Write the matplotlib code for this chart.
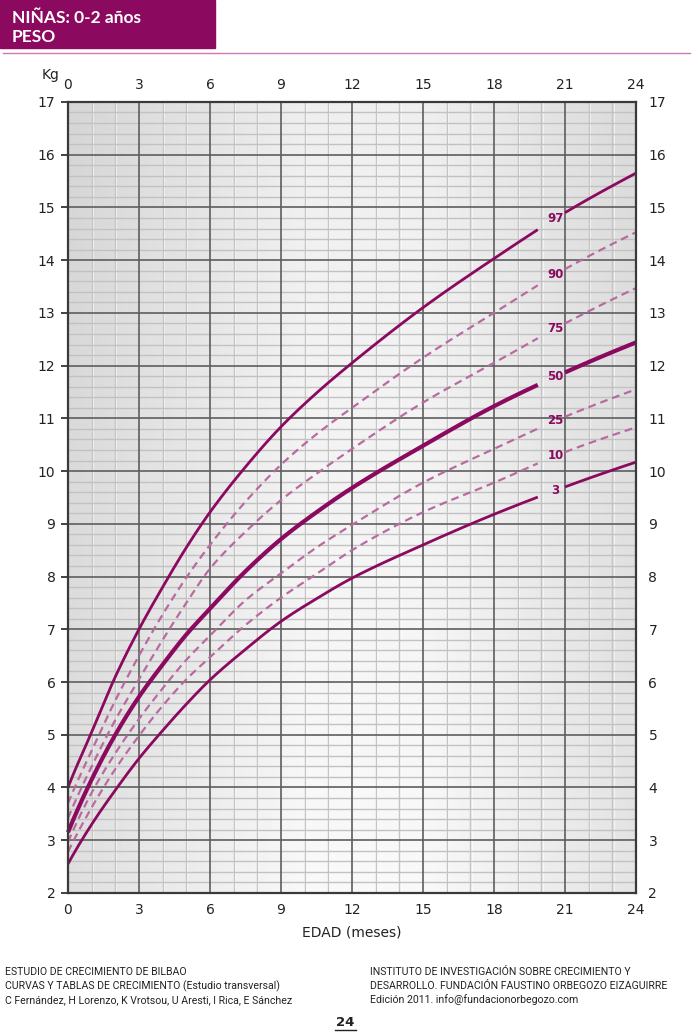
import numpy as np
import matplotlib
matplotlib.use("Agg")
import matplotlib.pyplot as plt

# --- data (age in months, weight in kg) ---
months = [0, 1, 2, 3, 4, 5, 6, 7.5, 9, 10.5, 12, 15, 18, 21, 24]
p97 = [4.00, 5.05, 6.10, 7.00, 7.80, 8.55, 9.22, 10.08, 10.84, 11.48, 12.05, 13.10, 14.03, 14.90, 15.65]
p90 = [3.70, 4.70, 5.65, 6.50, 7.28, 7.98, 8.60, 9.42, 10.12, 10.70, 11.20, 12.15, 13.00, 13.83, 14.53]
p75 = [3.42, 4.40, 5.28, 6.05, 6.80, 7.50, 8.15, 8.85, 9.45, 9.95, 10.42, 11.30, 12.05, 12.80, 13.47]
p50 = [3.15, 4.15, 5.00, 5.72, 6.33, 6.90, 7.39, 8.10, 8.71, 9.22, 9.68, 10.48, 11.23, 11.87, 12.44]
p25 = [2.97, 3.90, 4.65, 5.30, 5.88, 6.42, 6.88, 7.55, 8.06, 8.55, 8.98, 9.78, 10.42, 11.03, 11.55]
p10 = [2.78, 3.62, 4.35, 4.98, 5.55, 6.05, 6.47, 7.08, 7.60, 8.05, 8.50, 9.22, 9.78, 10.36, 10.83]
p3 = [2.55, 3.30, 3.95, 4.55, 5.08, 5.58, 6.04, 6.62, 7.15, 7.58, 7.97, 8.60, 9.18, 9.70, 10.17]

curves = [("97", p97), ("90", p90), ("75", p75), ("50", p50),
          ("25", p25), ("10", p10), ("3", p3)]

x_ticks = [0, 3, 6, 9, 12, 15, 18, 21, 24]
y_ticks = list(range(2, 18))

purple = "#8b0a5f"
pink = "#b96aa0"


def smooth(xs, ys, xnew):
    # monotone cubic (pchip) so the drawn line bends like the printed curves
    xs = np.asarray(xs, float)
    ys = np.asarray(ys, float)
    h = np.diff(xs)
    d = np.diff(ys) / h
    m = np.zeros_like(ys)
    for i in range(1, len(xs) - 1):
        if d[i - 1] * d[i] > 0:
            w1 = 2 * h[i] + h[i - 1]
            w2 = h[i] + 2 * h[i - 1]
            m[i] = (w1 + w2) / (w1 / d[i - 1] + w2 / d[i])
    m[0] = d[0] * 1.1
    m[-1] = d[-1] * 0.95
    idx = np.clip(np.searchsorted(xs, xnew) - 1, 0, len(xs) - 2)
    t = (xnew - xs[idx]) / h[idx]
    h00 = 2 * t ** 3 - 3 * t ** 2 + 1
    h10 = t ** 3 - 2 * t ** 2 + t
    h01 = -2 * t ** 3 + 3 * t ** 2
    h11 = t ** 3 - t ** 2
    return h00 * ys[idx] + h10 * h[idx] * m[idx] + h01 * ys[idx + 1] + h11 * h[idx] * m[idx + 1]


fig = plt.figure(figsize=(6.95, 10.34), dpi=100)
ax = fig.add_axes([0.0978, 0.1364, 0.8173, 0.765])

# background shading
gx, gy = np.meshgrid(np.linspace(0, 1, 200), np.linspace(0, 1, 200))
shade = 0.975 - 0.10 * np.clip(0.42 - gx, 0, None) / 0.42 - 0.08 * np.clip(gx - 0.62, 0, None) / 0.38 \
        - 0.04 * gy
ax.imshow(shade, extent=[0, 24, 2, 17], origin="lower", aspect="auto",
          cmap="gray", vmin=0, vmax=1, zorder=0)

# grid
for m in range(25):
    if m % 3:
        ax.axvline(m, color="#c4c4c4", lw=1.0, zorder=1)
        ax.axvline(m + 0.05, color="white", lw=0.6, alpha=0.7, zorder=1)
for k in np.arange(2, 17.01, 0.2):
    if abs(k - round(k)) > 0.01:
        ax.axhline(k, color="#c2c2c2", lw=1.0, zorder=1)
for m in x_ticks:
    ax.axvline(m, color="#5e5e5e", lw=1.2, zorder=2)
for k in y_ticks:
    ax.axhline(k, color="#5e5e5e", lw=1.2, zorder=2)

gap_lo, gap_hi, lab_x = 19.85, 21.0, 20.6
for name, vals in curves:
    x1 = np.linspace(0, gap_lo, 300)
    x2 = np.linspace(gap_hi, 24, 60)
    if name in ("97", "3"):
        kw = dict(color=purple, lw=2.0, solid_capstyle="butt")
    elif name == "50":
        kw = dict(color=purple, lw=3.0, solid_capstyle="butt")
    else:
        kw = dict(color=pink, lw=1.6, dashes=(3.5, 2.2))
    ax.plot(x1, smooth(months, vals, x1), zorder=4, clip_on=False, **kw)
    ax.plot(x2, smooth(months, vals, x2), zorder=4, clip_on=False, **kw)
    ax.text(lab_x, smooth(months, vals, np.array([lab_x]))[0], name, color=purple,
            fontsize=8.5, fontweight="bold", ha="center", va="center", zorder=5)

ax.set_xlim(0, 24)
ax.set_ylim(2, 17)
ax.set_xticks(x_ticks)
ax.set_yticks(y_ticks)
ax.tick_params(axis="both", labelsize=10, colors="#222222", length=5, width=1.2,
               direction="out", pad=4)
ax.tick_params(axis="x", top=True, labeltop=True, length=0, pad=6)
ax.tick_params(axis="x", which="major", bottom=True)
ax.tick_params(axis="y", right=False, labelright=True)
ax.xaxis.set_tick_params(which="both", pad=7)
for s in ax.spines.values():
    s.set_color("#3a3a3a")
    s.set_linewidth(1.6)
    s.set_zorder(6)

ax.set_xlabel("EDAD (meses)", fontsize=10, color="#222222", labelpad=6)
fig.text(42 / 695, 1 - 75 / 1034, "Kg", fontsize=10, color="#222222", ha="left", va="center")

# header
fig.patches.append(plt.Rectangle((0, 1 - 48 / 1034), 215 / 695, 48 / 1034,
                                 transform=fig.transFigure, color=purple, zorder=0))
fig.text(12 / 695, 1 - 18 / 1034, "NIÑAS: 0-2 años", fontsize=12.5, fontweight="bold",
         color="white", family=["Lato", "DejaVu Sans"], va="center")
fig.text(12 / 695, 1 - 37 / 1034, "PESO", fontsize=12.5, fontweight="bold",
         color="white", family=["Lato", "DejaVu Sans"], va="center")
fig.lines.append(plt.Line2D([3 / 695, 690 / 695], [1 - 53 / 1034] * 2,
                            transform=fig.transFigure, color="#cc7ab0", lw=1))

# footer
foot = ["Roboto", "DejaVu Sans"]
left_lines = ["ESTUDIO DE CRECIMIENTO DE BILBAO",
              "CURVAS Y TABLAS DE CRECIMIENTO (Estudio transversal)",
              "C Fernández, H Lorenzo, K Vrotsou, U Aresti, I Rica, E Sánchez"]
right_lines = ["INSTITUTO DE INVESTIGACIÓN SOBRE CRECIMIENTO Y",
               "DESARROLLO. FUNDACIÓN FAUSTINO ORBEGOZO EIZAGUIRRE",
               "Edición 2011. info@fundacionorbegozo.com"]
for i, t in enumerate(left_lines):
    fig.text(5 / 695, 1 - (972 + 14 * i) / 1034, t, fontsize=7.6, color="#222222",
             family=foot, va="center")
for i, t in enumerate(right_lines):
    fig.text(370 / 695, 1 - (972 + 14 * i) / 1034, t, fontsize=7.6, color="#222222",
             family=foot, va="center")
fig.text(345 / 695, 1 - 1022 / 1034, "24", fontsize=9.5, fontweight="bold",
         color="#222222", ha="center", va="center")
fig.lines.append(plt.Line2D([335 / 695, 356 / 695], [1 - 1030 / 1034] * 2,
                            transform=fig.transFigure, color="#222222", lw=1))

fig.savefig("out.png", dpi=100)
